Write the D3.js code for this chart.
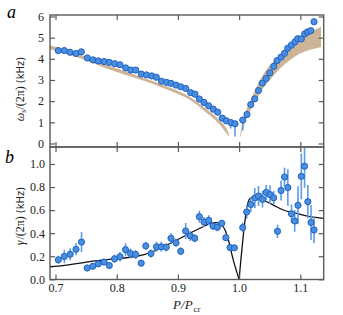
<!DOCTYPE html>
<html><head><meta charset="utf-8">
<script src="https://cdn.jsdelivr.net/npm/d3@7"></script>
<style>body{margin:0;background:#fff}svg{display:block}
.sf{font-family:"Liberation Serif","Times New Roman",Times,"DejaVu Serif",serif;}
.ss{font-family:"DejaVu Sans","Liberation Sans",sans-serif;}
</style>
</head><body>
<svg id="c" width="343" height="315"></svg>
<script>
// ---- Panel a: omega_s/(2pi) (kHz) ----
const aP = [0.7046,0.7144,0.7237,0.7335,0.7422,0.7520,0.7613,0.7699,0.7793,0.7879,0.7967,0.8054,0.8147,0.8229,0.8310,0.8402,0.8487,0.8572,0.8647,0.8732,0.8814,0.8887,0.8969,0.9046,0.9127,0.9209,0.9279,0.9350,0.9426,0.9503,0.9578,0.9650,0.9725,0.9791,0.9863,0.9933,
            1.0059,1.0129,1.0190,1.0255,1.0317,1.0379,1.0443,1.0502,1.0565,1.0619,1.0685,1.0742,1.0794,1.0856,1.0913,1.0957,1.1016,1.1072,1.1118,1.1172,1.1224];
const aV = [4.39,4.39,4.31,4.25,4.33,4.04,3.95,3.90,3.87,3.83,3.77,3.72,3.57,3.47,3.47,3.28,3.24,3.19,3.13,2.94,2.89,2.84,2.76,2.68,2.60,2.40,2.33,2.10,1.94,1.78,1.62,1.48,1.20,1.07,0.99,0.93,
            1.11,1.37,1.84,2.11,2.50,2.85,3.07,3.34,3.64,3.91,4.08,4.26,4.50,4.65,4.80,4.95,4.94,5.18,5.27,5.33,5.75];
const aErrLo = [0.03,0.03,0.03,0.03,0.03,0.03,0.03,0.03,0.03,0.03,0.03,0.03,0.03,0.03,0.03,0.03,0.03,0.03,0.03,0.03,0.03,0.03,0.03,0.03,0.03,0.03,0.03,0.03,0.03,0.03,0.03,0.03,0.05,0.08,0.28,0.60,
            0.50,0.05,0.05,0.03,0.03,0.03,0.03,0.03,0.03,0.03,0.03,0.03,0.03,0.03,0.03,0.03,0.03,0.03,0.03,0.03,0.03];
const aErrHi = [0.03,0.03,0.03,0.03,0.03,0.03,0.03,0.03,0.03,0.03,0.03,0.03,0.03,0.03,0.03,0.03,0.03,0.03,0.03,0.03,0.03,0.03,0.03,0.03,0.03,0.03,0.03,0.03,0.03,0.03,0.03,0.03,0.05,0.05,0.05,0.05,
            0.05,0.05,0.05,0.03,0.03,0.03,0.03,0.03,0.03,0.03,0.03,0.03,0.03,0.03,0.03,0.03,0.03,0.03,0.03,0.03,0.03];
// theory band (left and right branches)
const bandLP  = [0.691,0.740,0.789,0.838,0.887,0.920,0.944,0.961,0.972,0.979,0.9835];
const bandLLo = [4.44,4.07,3.45,3.05,2.50,2.11,1.51,1.13,0.78,0.48,0.32];
const bandLHi = [4.64,4.23,3.64,3.17,2.65,2.25,1.67,1.32,1.01,0.75,0.42];
const bandRP  = [1.0015,1.0097,1.0178,1.0342,1.0505,1.0668,1.0832,1.0995,1.1159,1.1338];
const bandRLo = [0.30,1.03,1.51,2.46,3.01,3.57,3.96,4.28,4.44,4.56];
const bandRHi = [0.40,1.51,1.98,3.09,3.72,4.20,4.64,4.99,5.27,5.51];

// ---- Panel b: gamma/(2pi) (kHz) ----
const bP = [0.7046,0.7144,0.7240,0.7335,0.7425,0.7518,0.7609,0.7699,0.7792,0.7879,0.7964,0.8054,0.8144,0.8225,0.8310,0.8400,0.8475,0.8560,0.8650,0.8729,0.8809,0.8887,0.8969,0.9046,0.9127,0.9203,0.9275,0.9350,0.9426,0.9503,0.9574,0.9644,0.9716,0.9783,0.9851,0.9922,
            1.0059,1.0124,1.0191,1.0257,1.0317,1.0382,1.0443,1.0505,1.0565,1.0627,1.0685,1.0742,1.0796,1.0856,1.0908,1.0962,1.1016,1.1069,1.1123,1.1175,1.1224];
const bV = [0.169,0.198,0.217,0.260,0.323,0.098,0.113,0.134,0.150,0.120,0.178,0.196,0.257,0.224,0.215,0.140,0.289,0.224,0.282,0.282,0.278,0.356,0.317,0.243,0.419,0.376,0.356,0.543,0.497,0.512,0.462,0.451,0.486,0.361,0.276,0.273,
            0.449,0.584,0.649,0.705,0.722,0.694,0.753,0.734,0.707,0.416,0.770,0.887,0.796,0.568,0.506,0.642,0.893,0.981,0.673,0.493,0.428];
const bErr = [0.035,0.058,0.052,0.052,0.087,0.029,0.026,0.026,0.026,0.026,0.035,0.041,0.056,0.043,0.039,0.026,0.035,0.035,0.043,0.043,0.035,0.043,0.035,0.035,0.069,0.043,0.035,0.052,0.043,0.043,0.035,0.035,0.026,0.026,0.026,0.017,
            0.043,0.058,0.065,0.087,0.087,0.072,0.065,0.080,0.058,0.058,0.087,0.080,0.159,0.080,0.094,0.165,0.199,0.188,0.145,0.152,0.115];
// theory curve
const curveLP = [0.691,0.7046,0.7645,0.8462,0.8654,0.8925,0.9198,0.9471,0.9569,0.9634,0.9716,0.9770,0.9824,0.9905,1.0];
const curveLV = [0.109,0.115,0.159,0.217,0.254,0.326,0.399,0.471,0.491,0.491,0.470,0.428,0.341,0.167,0.0];
const curveRP = [1.0,1.0031,1.0069,1.0124,1.0178,1.0232,1.0288,1.0395,1.0559,1.0722,1.0941,1.1158,1.1382];
const curveRV = [0.0,0.182,0.384,0.616,0.702,0.716,0.720,0.688,0.644,0.601,0.572,0.543,0.529];

const xTicks = [0.7,0.8,0.9,1.0,1.1];
const aTicks = [0,1,2,3,4,5,6];
const bTicks = [0.0,0.2,0.4,0.6,0.8,1.0];

const svg = d3.select("#c");
const L = 50, R = 323.7;
const x = d3.scaleLinear().domain([0.691,1.1382]).range([L,R]);
const yA = d3.scaleLinear().domain([-0.166,6.07]).range([147,15]);
const yB = d3.scaleLinear().domain([-0.0017,1.1474]).range([279.5,147]);

const frameCol = "#5a5a5a";
const ptFill = "#4a8ede", ptStroke = "#1f62c4", errCol = "#5c9be6";
const bandCol = "#cdb497";

const defs = svg.append("defs");
defs.append("clipPath").attr("id","ca").append("rect").attr("x",L).attr("y",15).attr("width",R-L).attr("height",132);
defs.append("clipPath").attr("id","cb").append("rect").attr("x",L).attr("y",147).attr("width",R-L).attr("height",132.5);

// ---- Panel a ----
const ga = svg.append("g").attr("clip-path","url(#ca)");
const area = d3.area().x(d=>x(d[0])).y0(d=>yA(d[1])).y1(d=>yA(d[2])).curve(d3.curveBasis);
ga.append("path").attr("d", area(bandLP.map((p,i)=>[p,bandLLo[i],bandLHi[i]]))).attr("fill",bandCol);
ga.append("path").attr("d", area(bandRP.map((p,i)=>[p,bandRLo[i],bandRHi[i]]))).attr("fill",bandCol);
ga.selectAll("line.e").data(aP).enter().append("line")
  .attr("x1",(d)=>x(d)).attr("x2",(d)=>x(d))
  .attr("y1",(d,i)=>yA(aV[i]-aErrLo[i])).attr("y2",(d,i)=>yA(aV[i]+aErrHi[i]))
  .attr("stroke",errCol).attr("stroke-width",1.6);
ga.selectAll("circle").data(aP).enter().append("circle")
  .attr("cx",d=>x(d)).attr("cy",(d,i)=>yA(aV[i])).attr("r",3.1)
  .attr("fill",ptFill).attr("stroke",ptStroke).attr("stroke-width",1);

// ---- Panel b ----
const gb = svg.append("g").attr("clip-path","url(#cb)");
const line = d3.line().x(d=>x(d[0])).y(d=>yB(d[1])).curve(d3.curveMonotoneX);
gb.append("path").attr("d", line(curveLP.map((p,i)=>[p,curveLV[i]]))).attr("fill","none").attr("stroke","#111").attr("stroke-width",1.3);
gb.append("path").attr("d", line(curveRP.map((p,i)=>[p,curveRV[i]]))).attr("fill","none").attr("stroke","#111").attr("stroke-width",1.3);
gb.selectAll("line.e").data(bP).enter().append("line")
  .attr("x1",d=>x(d)).attr("x2",d=>x(d))
  .attr("y1",(d,i)=>yB(bV[i]-bErr[i])).attr("y2",(d,i)=>yB(bV[i]+bErr[i]))
  .attr("stroke",errCol).attr("stroke-width",1.6);
gb.selectAll("circle").data(bP).enter().append("circle")
  .attr("cx",d=>x(d)).attr("cy",(d,i)=>yB(bV[i])).attr("r",3.1)
  .attr("fill",ptFill).attr("stroke",ptStroke).attr("stroke-width",1);

// ---- Axes / frames ----
function styleAxis(g){
  g.attr("font-family",null);
  g.select(".domain").remove();
  g.selectAll(".tick line").attr("stroke",frameCol).attr("stroke-width",1.2);
  g.selectAll(".tick text").attr("class","sf").attr("font-size",12).attr("fill","#222");
}
const tl = 5;
// panel a
svg.append("g").attr("transform",`translate(${L},0)`).call(d3.axisRight(yA).tickValues(aTicks).tickSize(tl).tickFormat("")).call(styleAxis);
svg.append("g").attr("transform",`translate(${L},0)`).call(d3.axisLeft(yA).tickValues(aTicks).tickSize(0).tickPadding(6).tickFormat(d3.format("d"))).call(styleAxis);
svg.append("g").attr("transform",`translate(${R},0)`).call(d3.axisLeft(yA).tickValues(aTicks).tickSize(tl).tickFormat("")).call(styleAxis);
svg.append("g").attr("transform",`translate(0,15)`).call(d3.axisBottom(x).tickValues(xTicks).tickSize(tl).tickFormat("")).call(styleAxis);
svg.append("g").attr("transform",`translate(0,147)`).call(d3.axisTop(x).tickValues(xTicks).tickSize(tl).tickFormat("")).call(styleAxis);
// panel b
svg.append("g").attr("transform",`translate(${L},0)`).call(d3.axisRight(yB).tickValues(bTicks).tickSize(tl).tickFormat("")).call(styleAxis);
svg.append("g").attr("transform",`translate(${L},0)`).call(d3.axisLeft(yB).tickValues(bTicks).tickSize(0).tickPadding(5).tickFormat(d3.format(".1f"))).call(styleAxis);
svg.append("g").attr("transform",`translate(${R},0)`).call(d3.axisLeft(yB).tickValues(bTicks).tickSize(tl).tickFormat("")).call(styleAxis);
svg.append("g").attr("transform",`translate(0,147)`).call(d3.axisBottom(x).tickValues(xTicks).tickSize(tl).tickFormat("")).call(styleAxis);
svg.append("g").attr("transform",`translate(0,279.5)`).call(d3.axisTop(x).tickValues(xTicks).tickSize(tl).tickFormat("")).call(styleAxis);
svg.append("g").attr("transform",`translate(0,279.5)`).call(d3.axisBottom(x).tickValues(xTicks).tickSize(0).tickPadding(4).tickFormat(d3.format(".1f"))).call(styleAxis);

// frames
[[15,147],[147,279.5]].forEach(([t,b])=>{
  svg.append("rect").attr("x",L).attr("y",t).attr("width",R-L).attr("height",b-t)
    .attr("fill","none").attr("stroke",frameCol).attr("stroke-width",1.4);
});

// ---- Labels ----
svg.append("text").attr("class","sf").attr("x",7).attr("y",18).attr("font-style","italic").attr("font-size",18).text("a");
svg.append("text").attr("class","sf").attr("x",5).attr("y",163).attr("font-style","italic").attr("font-size",18).text("b");

const la = svg.append("text").attr("transform","translate(24,89) rotate(-90)").attr("text-anchor","middle").attr("fill","#222");
la.append("tspan").attr("class","sf").attr("font-style","italic").attr("font-size",12).text("ω");
la.append("tspan").attr("class","sf").attr("font-size",8).attr("dy",2).text("s");
la.append("tspan").attr("class","sf").attr("font-size",12).attr("dy",-2).text("/(2π) ");
la.append("tspan").attr("class","ss").attr("font-size",10).text("(kHz)");

const lb = svg.append("text").attr("transform","translate(24,216) rotate(-90)").attr("text-anchor","middle").attr("fill","#222");
lb.append("tspan").attr("class","sf").attr("font-style","italic").attr("font-size",12).text("γ");
lb.append("tspan").attr("class","sf").attr("font-size",12).attr("dx",1).text("/(2π) ");
lb.append("tspan").attr("class","ss").attr("font-size",10).text("(kHz)");

const lx = svg.append("text").attr("class","sf").attr("x",(L+R)/2).attr("y",309).attr("text-anchor","middle")
  .attr("fill","#222").attr("font-size",13).attr("font-style","italic");
lx.append("tspan").text("P/P");
lx.append("tspan").attr("font-size",9).attr("font-style","normal").attr("dx",1).attr("dy",2.5).text("cr");
</script>
</body></html>
